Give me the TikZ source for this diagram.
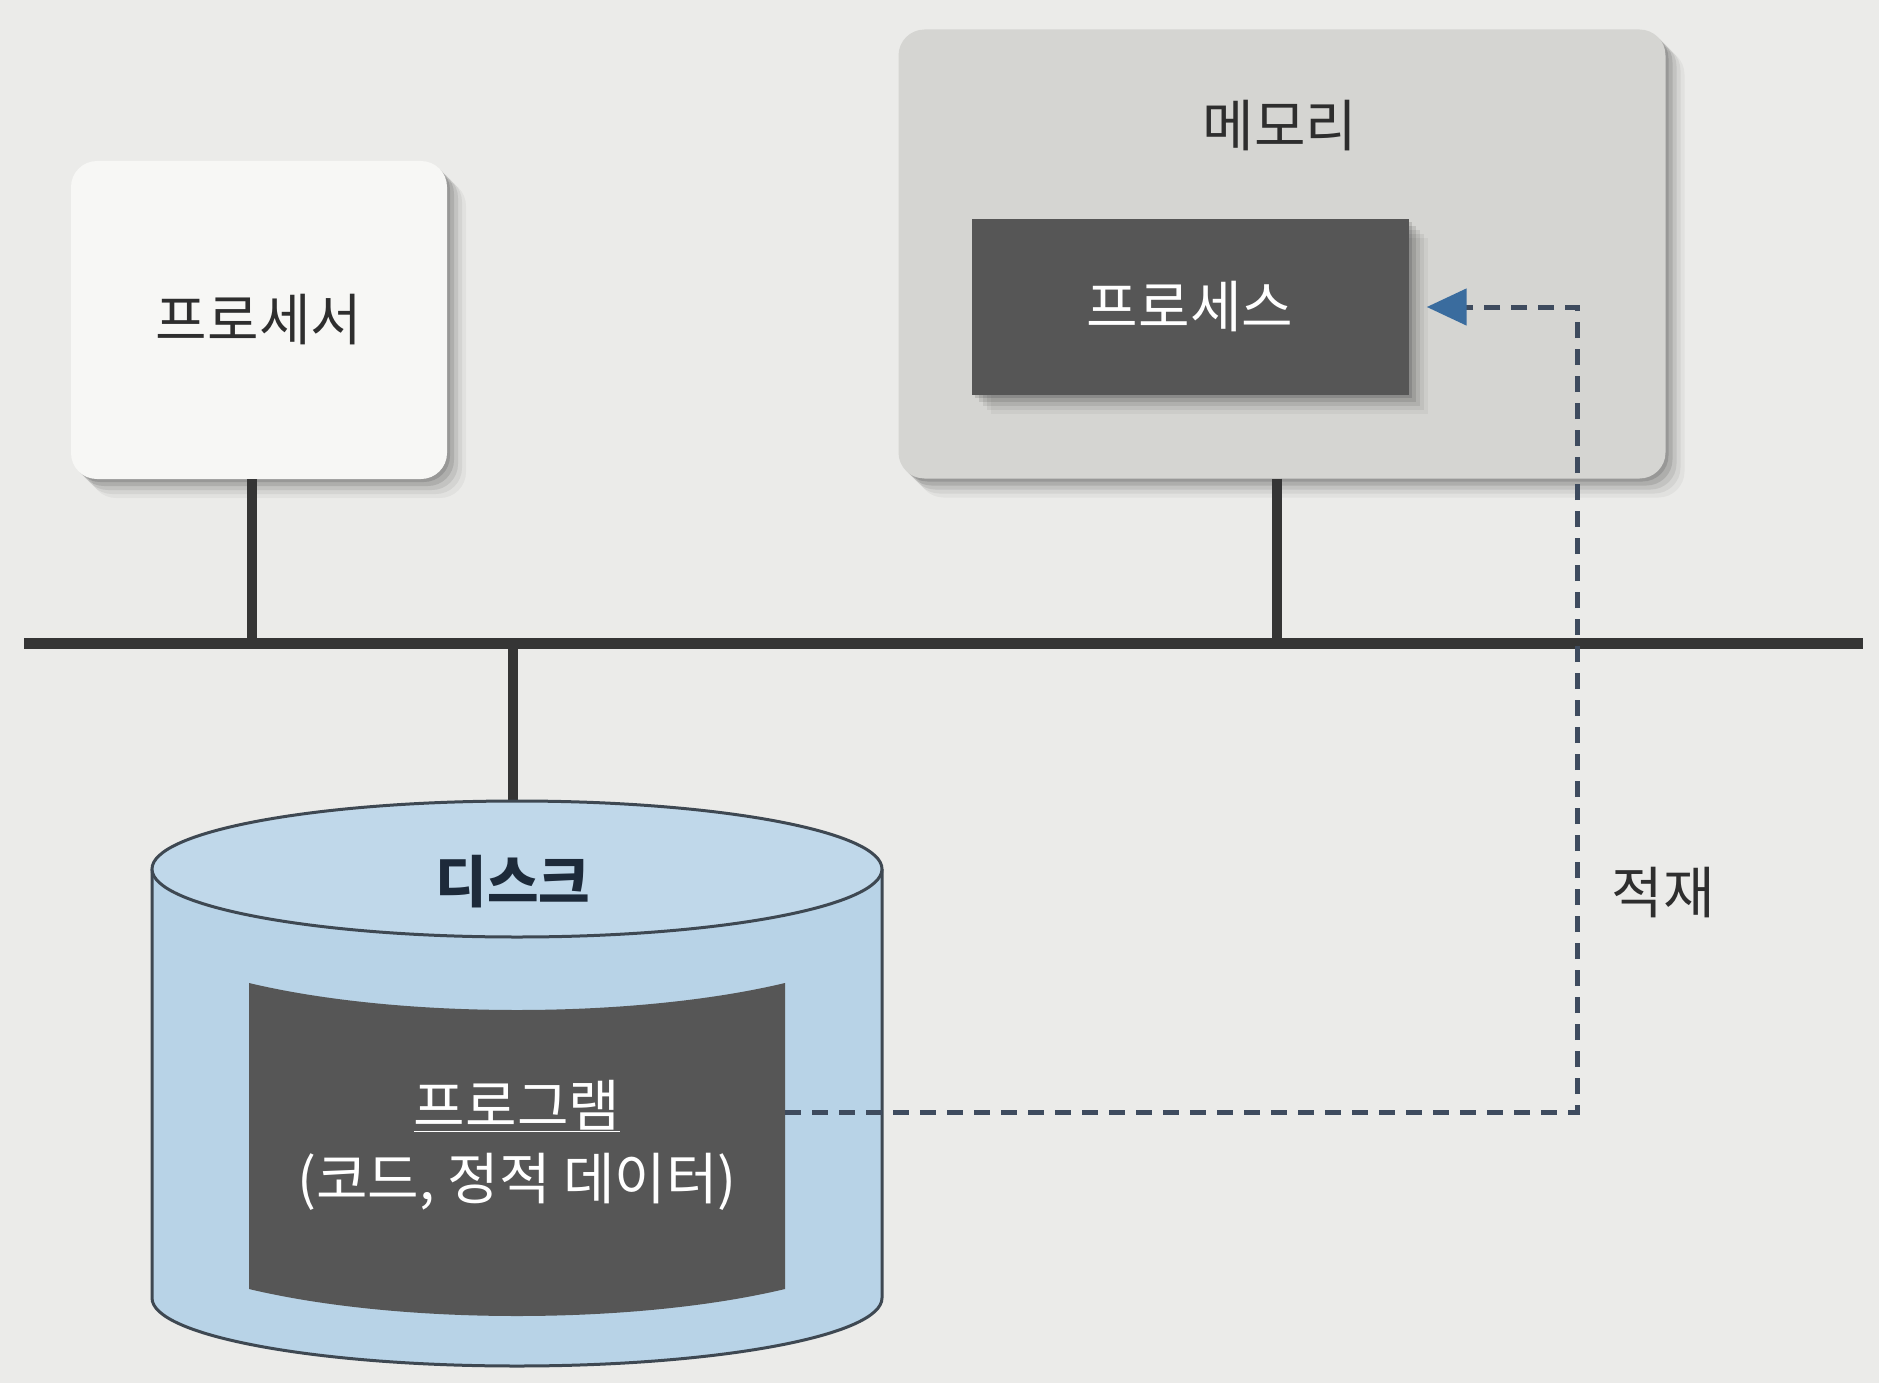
\documentclass[tikz,border=0pt]{standalone}
\usepackage{fontspec}
\setmainfont{Noto Sans CJK KR}
\usetikzlibrary{shadows,arrows.meta}

\definecolor{bgcol}{HTML}{EBEBE9}
\definecolor{cpucol}{HTML}{F7F7F5}
\definecolor{memcol}{HTML}{D5D5D2}
\definecolor{darkcol}{HTML}{565656}
\definecolor{diskcol}{HTML}{B8D3E7}
\definecolor{disktopcol}{HTML}{C0D8EA}
\definecolor{diskline}{HTML}{3E4852}
\definecolor{inkcol}{HTML}{2E2E2E}
\definecolor{navycol}{HTML}{1D2A3A}
\definecolor{buscol}{HTML}{353535}
\definecolor{dashcol}{HTML}{3E4B5E}
\definecolor{tipcol}{HTML}{3A6C9E}

\newcommand{\bigko}{\fontsize{56pt}{66pt}\selectfont}

\tikzset{
  softshadow/.style={
    drop shadow={shadow xshift=3pt, shadow yshift=-3pt, opacity=.12, fill=black},
    drop shadow={shadow xshift=7pt, shadow yshift=-7pt, opacity=.10, fill=black},
    drop shadow={shadow xshift=11pt, shadow yshift=-11pt, opacity=.08, fill=black},
    drop shadow={shadow xshift=15pt, shadow yshift=-15pt, opacity=.06, fill=black},
    drop shadow={shadow xshift=19pt, shadow yshift=-19pt, opacity=.04, fill=black}},
  box/.style={rounded corners=26pt, inner sep=0pt},
  bus/.style={line width=11pt, buscol},
  stub/.style={line width=10pt, buscol},
  loadline/.style={line width=5pt, dashcol, dash pattern=on 16pt off 11pt,
    -{Triangle[length=40pt, width=36pt, color=tipcol, fill=tipcol]},
    shorten >=18pt}
}

\begin{document}
\begin{tikzpicture}[x=1pt, y=1pt, font=\bigko]
  \useasboundingbox (0,0) rectangle (1879,-1383);
  \fill[bgcol] (0,0) rectangle (1879,-1383);

  % bus
  \coordinate (busW) at (24,-643);
  \coordinate (busE) at (1863,-643);
  \coordinate (disktop) at (513,-801);

  % processor and memory
  \node[box, fill=cpucol, minimum width=376pt, minimum height=318pt, softshadow, text=inkcol] (cpu) at (259,-320) {프로세서};
  \node[box, fill=memcol, minimum width=767pt, minimum height=449pt, softshadow] (mem) at (1282,-254) {};
  \node[text=inkcol] (memlabel) at (1280,-126) {메모리};
  \node[fill=darkcol, minimum width=437pt, minimum height=176pt, text=white, softshadow] (proc) at (1190,-307) {프로세스};

  \draw[stub] ([xshift=-7pt]cpu.south) -- ([xshift=-7pt]cpu.south |- busW);
  \draw[stub] ([xshift=-5pt]mem.south) -- ([xshift=-5pt]mem.south |- busW);
  \draw[stub] (disktop |- busW) -- (disktop);
  \draw[bus] (busW) -- (busE);

  % disk
  \draw[diskline, line width=3pt, fill=diskcol] (152,-869) -- (152,-1298)
    arc[start angle=180, end angle=360, x radius=365, y radius=68] -- (882,-869);
  \draw[diskline, line width=3pt, fill=disktopcol] (517,-869) ellipse [x radius=365, y radius=68];
  \node[text=navycol, font=\bigko\bfseries] (disk) at (513,-882) {디스크};

  % program
  \fill[darkcol] (249,-983) .. controls (400,-1019) and (634,-1019) .. (785,-983)
    -- (785,-1289) .. controls (634,-1325) and (400,-1325) .. (249,-1289) -- cycle;
  \node[text=white] (progtitle) at (517,-1106) {\underline{프로그램}};
  \node[text=white] (progsub) at (517,-1182) {(코드, 정적 데이터)};

  % loading
  \coordinate (progedge) at (785,-1112);
  \coordinate (turn) at (1577,-1112);
  \draw[loadline] (progedge) -- (turn) |- (proc.east);
  \node[text=inkcol] (loadlabel) at (1663,-893) {적재};
\end{tikzpicture}
\end{document}
